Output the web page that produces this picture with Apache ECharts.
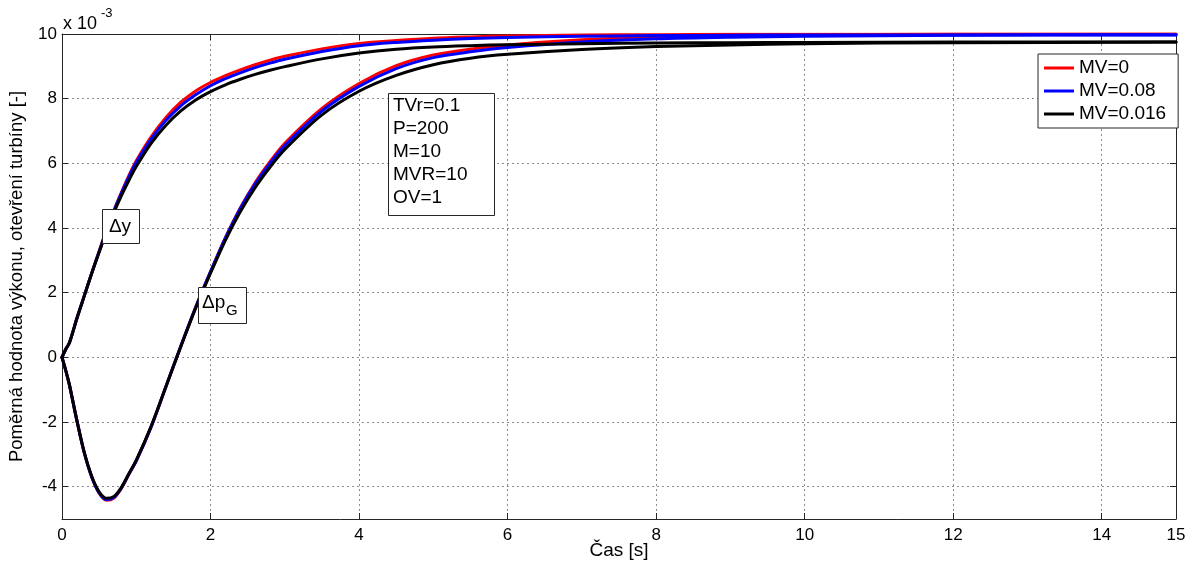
<!DOCTYPE html>
<html>
<head>
<meta charset="utf-8">
<script src="https://cdn.jsdelivr.net/npm/echarts@6/dist/echarts.min.js"></script>
<style>
html, body { margin: 0; padding: 0; background: #ffffff; }
#chart { width: 1194px; height: 565px; }
</style>
</head>
<body>
<div id="chart"></div>
<script>
// Time samples [s]
const time = [0, 0.05, 0.1, 0.2, 0.3, 0.4, 0.5, 0.6, 0.7, 0.8, 0.9, 1.0, 1.2, 1.4, 1.6, 1.8,
  2.0, 2.2, 2.4, 2.6, 2.8, 3.0, 3.5, 4.0, 4.5, 5.0, 5.5, 6.0, 7.0, 8.0, 9.0, 10, 12, 15];

// Turbine opening Δy (x 10^-3)
const dyMV0 = [0, 0.25, 0.45, 1.2, 1.9, 2.6, 3.28, 3.95, 4.55, 5.1, 5.62, 6.08, 6.82, 7.42, 7.89, 8.24,
  8.5, 8.71, 8.89, 9.05, 9.19, 9.31, 9.54, 9.71, 9.8, 9.87, 9.91, 9.94, 9.97, 9.98, 9.99, 9.99, 10.0, 10.0];
const dyMV008 = [0, 0.25, 0.45, 1.2, 1.9, 2.6, 3.27, 3.93, 4.53, 5.08, 5.58, 6.03, 6.75, 7.33, 7.78, 8.12,
  8.4, 8.62, 8.8, 8.96, 9.1, 9.22, 9.46, 9.64, 9.74, 9.81, 9.86, 9.89, 9.93, 9.95, 9.96, 9.97, 9.97, 9.98];
const dyMV0016 = [0, 0.25, 0.45, 1.2, 1.9, 2.6, 3.25, 3.9, 4.48, 5.0, 5.47, 5.9, 6.62, 7.18, 7.62, 7.96,
  8.22, 8.43, 8.6, 8.75, 8.88, 8.99, 9.23, 9.41, 9.53, 9.6, 9.64, 9.67, 9.7, 9.72, 9.73, 9.74, 9.75, 9.75];

// Relative power Δp_G (x 10^-3)
const pgMV0 = [0, -0.4, -0.85, -1.95, -2.95, -3.7, -4.2, -4.42, -4.35, -4.05, -3.62, -3.2, -2.15, -0.9, 0.35, 1.55,
  2.65, 3.7, 4.62, 5.4, 6.05, 6.62, 7.7, 8.47, 9.02, 9.35, 9.53, 9.66, 9.82, 9.91, 9.95, 9.97, 9.99, 10.0];
const pgMV008 = [0, -0.4, -0.85, -1.95, -2.95, -3.7, -4.19, -4.4, -4.33, -4.04, -3.61, -3.2, -2.15, -0.9, 0.35, 1.55,
  2.65, 3.69, 4.6, 5.36, 6.0, 6.55, 7.62, 8.38, 8.93, 9.27, 9.45, 9.58, 9.75, 9.85, 9.9, 9.93, 9.96, 9.97];
const pgMV0016 = [0, -0.4, -0.85, -1.95, -2.95, -3.68, -4.16, -4.36, -4.3, -4.02, -3.6, -3.18, -2.13, -0.9, 0.33, 1.52,
  2.6, 3.62, 4.5, 5.25, 5.88, 6.43, 7.5, 8.23, 8.72, 9.05, 9.25, 9.37, 9.52, 9.61, 9.66, 9.7, 9.73, 9.75];

const legendNames = ['MV=0', 'MV=0.08', 'MV=0.016'];
const colors = ['#ff0000', '#0000ff', '#000000'];

const xTicks = { min: 0, max: 15, interval: 2 };
const yRange = { min: -5, max: 10 };

const FONT = '"Liberation Sans", Arial, sans-serif';
const AXIS_COLOR = '#262626';
const GRID_LINE = { show: true, lineStyle: { color: '#8c8c8c', width: 1, type: [2, 3] } };

const chart = echarts.init(document.getElementById('chart'), null, { renderer: 'canvas' });

function pairs(values) {
  return time.map((t, i) => [t, values[i]]);
}

function curve(name, color, values) {
  return {
    name: name,
    type: 'line',
    data: pairs(values),
    showSymbol: false,
    smooth: 0.3,
    lineStyle: { color: color, width: 3, join: 'round', cap: 'round' },
    itemStyle: { color: color },
    emphasis: { disabled: true },
    silent: true
  };
}

const seriesList = [
  curve(legendNames[0], colors[0], dyMV0),
  curve(legendNames[0], colors[0], pgMV0),
  curve(legendNames[1], colors[1], dyMV008),
  curve(legendNames[1], colors[1], pgMV008),
  curve(legendNames[2], colors[2], dyMV0016),
  curve(legendNames[2], colors[2], pgMV0016)
];

const tickInside = { show: true, inside: true, length: 6, lineStyle: { color: AXIS_COLOR } };
const axisLine = { show: true, onZero: false, lineStyle: { color: AXIS_COLOR, width: 1 } };

chart.setOption({
  animation: false,
  backgroundColor: '#ffffff',
  textStyle: { fontFamily: FONT },
  grid: { left: 62, right: 18, top: 34, bottom: 46, containLabel: false, outerBoundsMode: 'none' },
  legend: {
    data: legendNames,
    orient: 'vertical',
    left: 1038,
    top: 54,
    padding: [4, 12, 4, 6],
    itemGap: 3,
    itemWidth: 30,
    itemHeight: 3,
    itemTextGap: 4,
    icon: 'rect',
    backgroundColor: '#ffffff',
    borderColor: AXIS_COLOR,
    borderWidth: 1,
    borderRadius: 0,
    selectedMode: false,
    textStyle: { fontFamily: FONT, fontSize: 19, color: '#000', lineHeight: 20 }
  },
  xAxis: [
    {
      type: 'value', position: 'bottom',
      min: xTicks.min, max: xTicks.max, interval: xTicks.interval,
      axisLine: axisLine, axisTick: tickInside, splitLine: GRID_LINE,
      axisLabel: { fontFamily: FONT, fontSize: 17, color: '#000', margin: 8 },
      name: 'Čas [s]', nameLocation: 'middle', nameGap: 22, nameMoveOverlap: false,
      nameTextStyle: { fontFamily: FONT, fontSize: 19, color: '#000' }
    },
    {
      type: 'value', position: 'top',
      min: xTicks.min, max: xTicks.max, interval: xTicks.interval,
      axisLine: axisLine, axisTick: tickInside, splitLine: { show: false },
      axisLabel: { show: false }
    }
  ],
  yAxis: [
    {
      type: 'value', position: 'left',
      min: yRange.min, max: yRange.max, splitNumber: 7,
      axisLine: axisLine, axisTick: tickInside, splitLine: GRID_LINE,
      axisLabel: {
        fontFamily: FONT, fontSize: 17, color: '#000', margin: 5,
        formatter: function (v) { return v === yRange.min ? '' : String(v); }
      },
      name: 'Poměrná hodnota výkonu, otevření turbíny [-]',
      nameLocation: 'middle', nameGap: 36, nameMoveOverlap: false,
      nameTextStyle: { fontFamily: FONT, fontSize: 18.5, color: '#000' }
    },
    {
      type: 'value', position: 'right',
      min: yRange.min, max: yRange.max, splitNumber: 7,
      axisLine: axisLine, axisTick: tickInside, splitLine: { show: false },
      axisLabel: { show: false }
    }
  ],
  series: seriesList
});

// Annotations placed in data coordinates
const paramLines = ['TVr=0.1', 'P=200', 'M=10', 'MVR=10', 'OV=1'];
const px = (t, v) => chart.convertToPixel({ gridIndex: 0 }, [t, v]);

const paramBox = px(4.39, 8.16);
const dyBox = px(0.545, 4.6);
const pgBox = px(1.83, 2.16);
const expo = px(0, 10);

const boxStyle = { fill: '#ffffff', stroke: AXIS_COLOR, lineWidth: 1 };

chart.setOption({
  graphic: [
    {
      type: 'rect', z: 100,
      shape: { x: Math.round(paramBox[0]) + 0.5, y: Math.round(paramBox[1]) + 0.5, width: 106, height: 122 },
      style: boxStyle
    },
    {
      type: 'text', z: 101,
      x: Math.round(paramBox[0]) + 5, y: Math.round(paramBox[1]) + 1,
      style: {
        text: paramLines.join('\n'), font: '19px ' + FONT, fill: '#000',
        lineHeight: 23, textAlign: 'left', textVerticalAlign: 'top'
      }
    },
    {
      type: 'rect', z: 100,
      shape: { x: Math.round(dyBox[0]) + 0.5, y: Math.round(dyBox[1]) + 0.5, width: 37, height: 34 },
      style: boxStyle
    },
    {
      type: 'text', z: 101,
      x: Math.round(dyBox[0]) + 18, y: Math.round(dyBox[1]) + 18,
      style: { text: 'Δy', font: '19px ' + FONT, fill: '#000', textAlign: 'center', textVerticalAlign: 'middle' }
    },
    {
      type: 'rect', z: 100,
      shape: { x: Math.round(pgBox[0]) + 0.5, y: Math.round(pgBox[1]) + 0.5, width: 48, height: 36 },
      style: boxStyle
    },
    {
      type: 'text', z: 101,
      x: Math.round(pgBox[0]) + 4, y: Math.round(pgBox[1]) + 16,
      style: { text: 'Δp', font: '19px ' + FONT, fill: '#000', textAlign: 'left', textVerticalAlign: 'middle' }
    },
    {
      type: 'text', z: 101,
      x: Math.round(pgBox[0]) + 28, y: Math.round(pgBox[1]) + 24,
      style: { text: 'G', font: '15px ' + FONT, fill: '#000', textAlign: 'left', textVerticalAlign: 'middle' }
    },
    {
      type: 'text', z: 101,
      x: Math.round(expo[0]) + 1, y: Math.round(expo[1]) - 10,
      style: { text: 'x 10', font: '18px ' + FONT, fill: '#000', textAlign: 'left', textVerticalAlign: 'middle' }
    },
    {
      type: 'text', z: 101,
      x: Math.round(expo[0]) + 39, y: Math.round(expo[1]) - 21,
      style: { text: '-3', font: '13px ' + FONT, fill: '#000', textAlign: 'left', textVerticalAlign: 'middle' }
    }
  ]
});
</script>
</body>
</html>
